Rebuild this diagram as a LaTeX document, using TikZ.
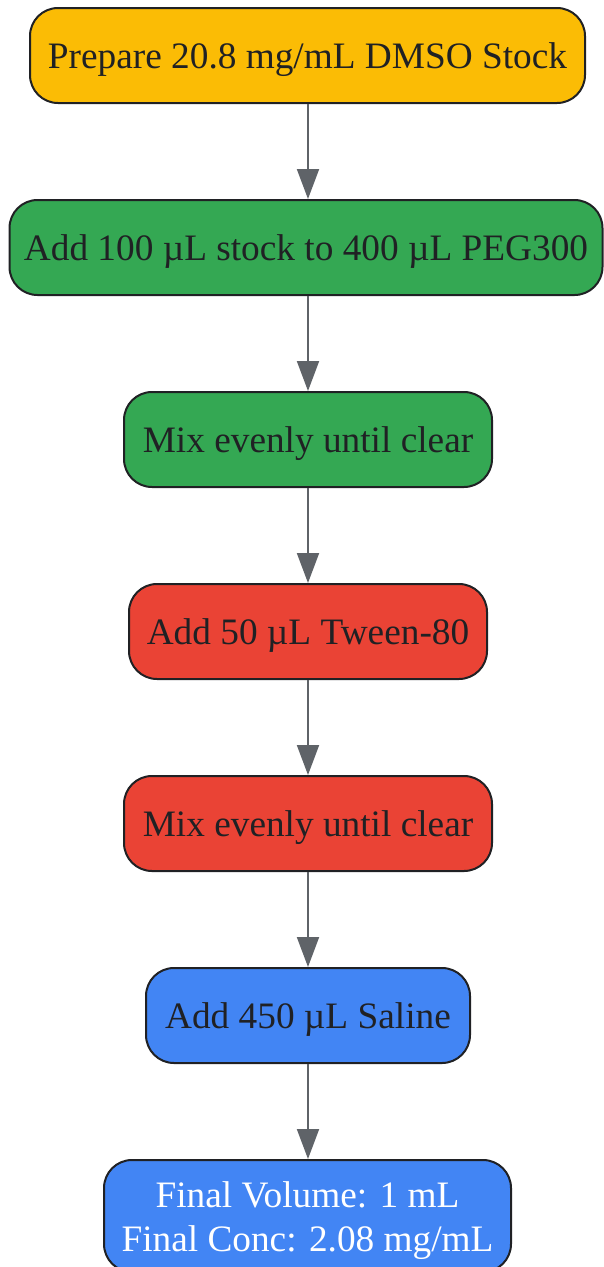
\documentclass[tikz,border=0pt]{standalone}
\usepackage{fontspec}
\setmainfont{Liberation Serif}
\usetikzlibrary{arrows.meta}
\definecolor{cyellow}{HTML}{FBBC05}
\definecolor{cgreen}{HTML}{34A853}
\definecolor{cred}{HTML}{EA4335}
\definecolor{cblue}{HTML}{4285F4}
\definecolor{cstroke}{HTML}{202124}
\definecolor{carrow}{HTML}{5F6368}
\tikzset{
  stepbox/.style={draw=cstroke, line width=2pt, rounded corners=28pt,
    inner sep=0pt, minimum height=95pt, text=cstroke, align=center,
    font=\fontsize{37.3}{44}\selectfont, text height=32pt, text depth=6pt},
  arr/.style={draw=carrow, line width=2pt, -{Triangle[length=30pt,width=22pt]}}
}
\begin{document}
\begin{tikzpicture}[x=1pt,y=-1pt]
\useasboundingbox (0,0) rectangle (603,1267);
\node[stepbox, fill=cyellow, minimum width=555pt] (n1) at (307.5,55.5) {Prepare 20.8 mg/mL DMSO Stock};
\node[stepbox, fill=cgreen, minimum width=593pt] (n2) at (306,247.5) {Add 100 µL stock to 400 µL PEG300};
\node[stepbox, fill=cgreen, minimum width=368pt] (n3) at (308,439.5) {Mix evenly until clear};
\node[stepbox, fill=cred, minimum width=358pt] (n4) at (308,631.5) {Add 50 µL Tween-80};
\node[stepbox, fill=cred, minimum width=368pt] (n5) at (308,823.5) {Mix evenly until clear};
\node[stepbox, fill=cblue, minimum width=324pt] (n6) at (308,1015.5) {Add 450 µL Saline};
\node[stepbox, fill=cblue, text=white, minimum width=407pt, minimum height=112pt, text height=77pt] (n7) at (307.5,1216) {Final Volume: 1 mL\\Final Conc: 2.08 mg/mL};
\draw[arr] (n1.south -| 308,0) -- (n2.north -| 308,0);
\draw[arr] (n2.south -| 308,0) -- (n3.north);
\draw[arr] (n3) -- (n4);
\draw[arr] (n4) -- (n5);
\draw[arr] (n5) -- (n6);
\draw[arr] (n6.south) -- (n7.north -| n6.south);
\end{tikzpicture}
\end{document}
